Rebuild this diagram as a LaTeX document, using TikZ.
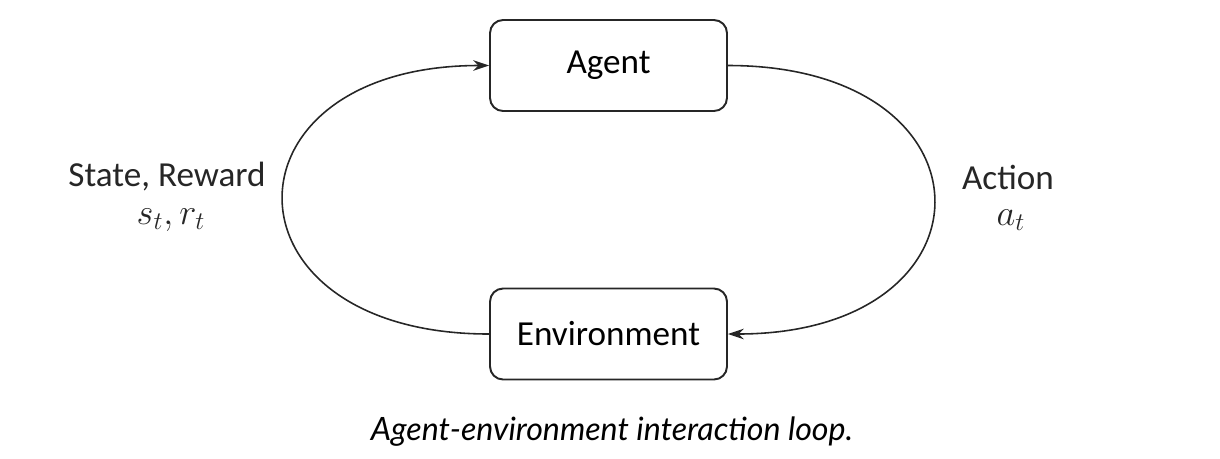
\documentclass[tikz,border=0pt]{standalone}
\usepackage{fontspec}
\setmainfont{Carlito}
\newfontfamily\captfont{Lato}
\usetikzlibrary{arrows.meta}

\begin{document}
\begin{tikzpicture}[x=0.02cm, y=-0.02cm,
    block/.style={rectangle, rounded corners=0.26cm, draw=black!85, line width=1.1pt,
      minimum width=4.74cm, minimum height=1.82cm, font=\fontsize{20}{24}\selectfont},
    loop/.style={line width=0.9pt, draw=black!85, -{Stealth[length=9pt, width=6pt]}},
    lbl/.style={font=\fontsize{20}{24}\selectfont, text=black!85}]
  \useasboundingbox (0,0) rectangle (1220,458);

  % Agent and environment
  \node[block] (agent) at (608.5,65.5) {Agent};
  \node[block] (env) at (608.5,334) {Environment};

  % Feedback loop
  \draw[loop] (env.west) to[out=180, in=180, looseness=2.62] (agent.west);
  \draw[loop] (agent.east) to[out=0, in=0, looseness=2.62] (env.east);

  % Labels
  \node[lbl] (stlbl) at (167,177) {State, Reward};
  \node[lbl] (stsym) at (171,220) {$s_t, r_t$};
  \node[lbl] (aclbl) at (1008,177) {Action};
  \node[lbl] (acsym) at (1011,220) {$a_t$};

  % Caption
  \node[font=\captfont\itshape\fontsize{18.3}{22}\selectfont] (capt) at (612,432)
    {Agent-environment interaction loop.};

\end{tikzpicture}
\end{document}
